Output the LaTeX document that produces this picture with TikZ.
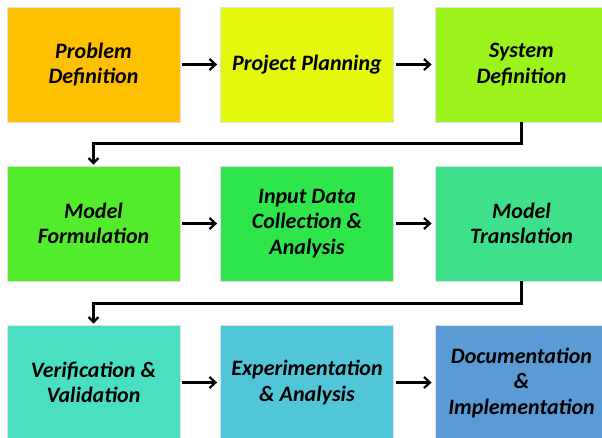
\documentclass[tikz,border=0pt]{standalone}
\usepackage{fontspec}
\setmainfont{Carlito}
\usepackage{xcolor}
\usetikzlibrary{arrows.meta}
\definecolor{cOrange}{HTML}{FFC000}
\definecolor{cLime}{HTML}{E4F80E}
\definecolor{cYGreen}{HTML}{9CF31C}
\definecolor{cGreen}{HTML}{52EC2C}
\definecolor{cMGreen}{HTML}{2EE64C}
\definecolor{cSea}{HTML}{3FE08C}
\definecolor{cTeal}{HTML}{4ADFC2}
\definecolor{cSky}{HTML}{50C6D8}
\definecolor{cBlue}{HTML}{5B9BD5}
\tikzset{
  stage/.style={draw=black!12, line width=0.8pt, minimum width=173pt, minimum height=115pt,
    align=center, font=\fontsize{22}{25.5}\selectfont\bfseries\itshape, text=black},
  flow/.style={-{Straight Barb[length=6pt,width=11pt,line width=2.2pt]}, line width=2.4pt, draw=black,
    shorten <=2pt, shorten >=3pt},
  elbow/.style={-{Straight Barb[length=5pt,width=10pt,line width=2.2pt]}, line width=2.3pt, draw=black}
}

\begin{document}
\begin{tikzpicture}[x=1pt, y=1pt]
  \clip (0,0) rectangle (602,-437);
  \fill[white] (0,0) rectangle (602,-437);

  % first row
  \node[stage, fill=cOrange] (pd) at (93.5,-64.5) {Problem\\Definition};
  \node[stage, fill=cLime] (pp) at (307,-64.5) {Project Planning};
  \node[stage, fill=cYGreen] (sd) at (521.5,-64.5) {System\\Definition};

  % second row
  \node[stage, fill=cGreen] (mf) at (93.5,-223.5) {Model\\Formulation};
  \node[stage, fill=cMGreen] (idc) at (307,-223.5) {Input Data\\Collection \&\\Analysis};
  \node[stage, fill=cSea] (mt) at (521.5,-223.5) {Model\\Translation};

  % third row
  \node[stage, fill=cTeal] (vv) at (93.5,-382.5) {Verification \&\\Validation};
  \node[stage, fill=cSky] (ea) at (307,-382.5) {Experimentation\\\& Analysis};
  \node[stage, fill=cBlue] (di) at (521.5,-382.5) {Documentation\\\&\\Implementation};

  % arrows
  \draw[flow] (pd) -- (pp);
  \draw[flow] (pp) -- (sd);
  \draw[flow] (mf) -- (idc);
  \draw[flow] (idc) -- (mt);
  \draw[flow] (vv) -- (ea);
  \draw[flow] (ea) -- (di);
  \draw[elbow] (sd.south) -- ++(0,-21) -| ([yshift=1pt]mf.north);
  \draw[elbow] (mt.south) -- ++(0,-22) -| ([yshift=1pt]vv.north);
\end{tikzpicture}
\end{document}
